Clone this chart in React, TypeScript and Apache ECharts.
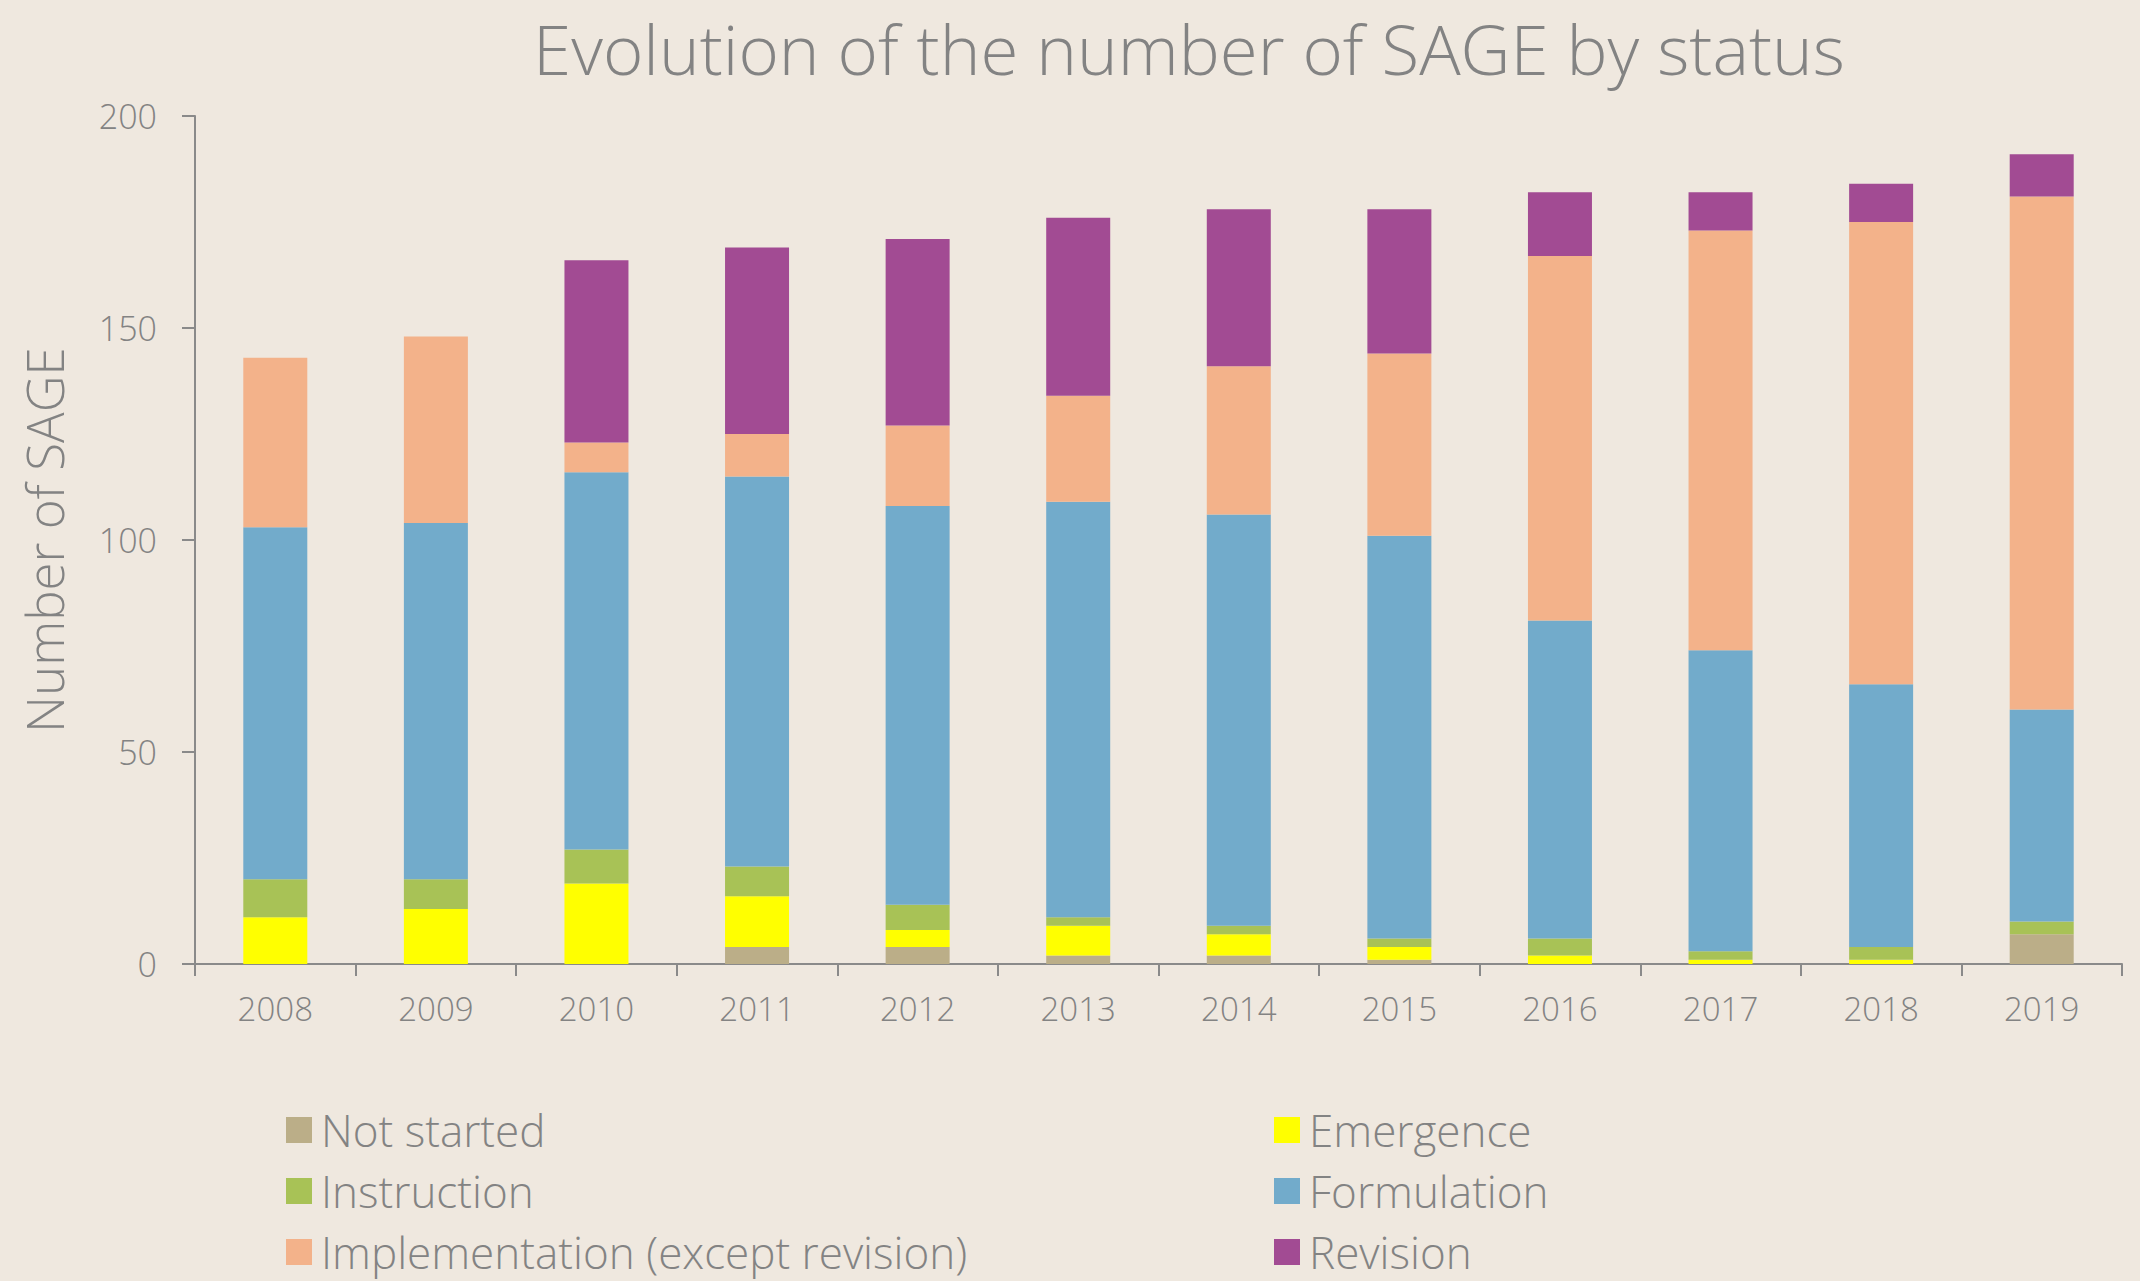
import React, { useEffect, useRef } from "react";
import * as echarts from "echarts";

const years = ["2008", "2009", "2010", "2011", "2012", "2013", "2014", "2015", "2016", "2017", "2018", "2019"];
const notStarted = [0, 0, 0, 4, 4, 2, 2, 1, 0, 0, 0, 7];
const emergence = [11, 13, 19, 12, 4, 7, 5, 3, 2, 1, 1, 0];
const instruction = [9, 7, 8, 7, 6, 2, 2, 2, 4, 2, 3, 3];
const formulation = [83, 84, 89, 92, 94, 98, 97, 95, 75, 71, 62, 50];
const implementation = [40, 44, 7, 10, 19, 25, 35, 43, 86, 99, 109, 121];
const revision = [0, 0, 43, 44, 44, 42, 37, 34, 15, 9, 9, 10];

const seriesNames = [
  "Not started",
  "Emergence",
  "Instruction",
  "Formulation",
  "Implementation (except revision)",
  "Revision",
];
const seriesData = [notStarted, emergence, instruction, formulation, implementation, revision];
const colors = ["#BBAE88", "#FFFF00", "#A8C256", "#72ABCB", "#F3B28A", "#A24B93"];

// legend grid: column and row of each series
const legendCol = [0, 1, 0, 1, 0, 1];
const legendRow = [0, 0, 1, 1, 2, 2];
const legendColLeft = [286, 1274];
const legendRowCenter = [1133, 1194, 1255];

const FONT = "'Open Sans', sans-serif";
const GRAY = "#838383";

export default function App() {
  const ref = useRef<HTMLDivElement>(null);
  useEffect(() => {
    if (!ref.current) return;
    const chart = echarts.init(ref.current, undefined, { renderer: "svg" });
    chart.setOption({
      animation: false,
      backgroundColor: "#EFE8DF",
      textStyle: { fontFamily: FONT },
      title: {
        text: "Evolution of the number of SAGE by status",
        left: 1184,
        textAlign: "center",
        top: 8,
        textStyle: { fontFamily: FONT, fontWeight: 300, fontSize: 69, color: GRAY },
      },
      legend: seriesNames.map((name, i) => ({
        data: [name],
        orient: "horizontal",
        left: legendColLeft[legendCol[i]],
        top: legendRowCenter[legendRow[i]] - 25,
        itemWidth: 26,
        itemHeight: 26,
        itemGap: 0,
        padding: 0,
        icon: "rect",
        textStyle: { fontFamily: FONT, fontWeight: 300, fontSize: 44, color: GRAY, padding: [0, 0, 0, 4] },
      })),
      grid: { left: 195, right: 18, top: 116, bottom: 317, containLabel: false },
      xAxis: {
        type: "category",
        data: years,
        axisLine: { lineStyle: { color: "#8a8a8a", width: 2 } },
        axisTick: { show: true, alignWithLabel: false, length: 12, lineStyle: { color: "#8a8a8a", width: 2 } },
        axisLabel: { color: GRAY, fontFamily: FONT, fontWeight: 300, fontSize: 33, margin: 28 },
      },
      yAxis: {
        type: "value",
        min: 0,
        max: 200,
        interval: 50,
        name: "Number of SAGE",
        nameLocation: "middle",
        nameGap: 126,
        nameTextStyle: { color: GRAY, fontFamily: FONT, fontWeight: 300, fontSize: 51 },
        axisLine: { show: true, lineStyle: { color: "#8a8a8a", width: 2 } },
        axisTick: { show: true, length: 13, lineStyle: { color: "#8a8a8a", width: 2 } },
        splitLine: { show: false },
        axisLabel: { color: GRAY, fontFamily: FONT, fontWeight: 300, fontSize: 34, margin: 38 },
      },
      series: seriesNames.map((name, i) => ({
        name,
        type: "bar",
        stack: "total",
        barWidth: 64,
        data: seriesData[i],
        itemStyle: { color: colors[i] },
      })),
    });
    return () => chart.dispose();
  }, []);
  return (
    <div
      ref={ref}
      style={{ position: "fixed", left: 0, top: 0, width: 2140, height: 1281 }}
    />
  );
}
